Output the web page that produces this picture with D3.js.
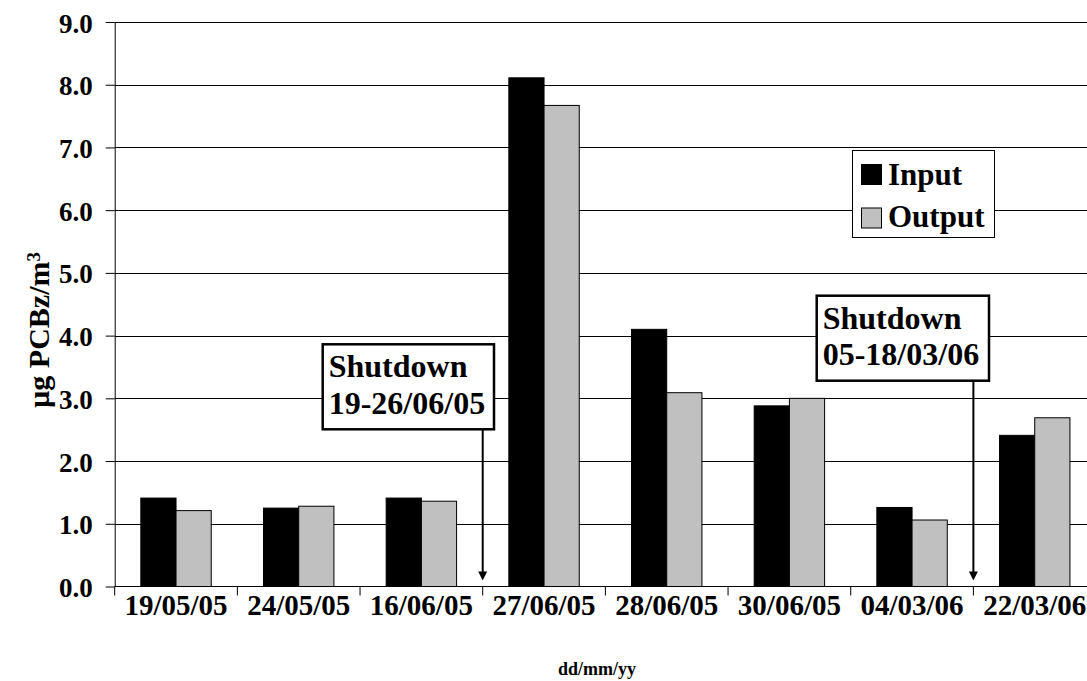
<!DOCTYPE html>
<html>
<head>
<meta charset="utf-8">
<script src="https://cdn.jsdelivr.net/npm/d3@7"></script>
<style>
  body { margin: 0; background: #fff; }
  svg text { font-family: "Liberation Serif", "Times New Roman", serif; font-weight: bold; fill: #000; }
</style>
</head>
<body>
<svg id="chart" width="1087" height="681"></svg>
<script>
// values
const dates = ["19/05/05", "24/05/05", "16/06/05", "27/06/05", "28/06/05", "30/06/05", "04/03/06", "22/03/06"];
const inputVals = [1.41, 1.25, 1.41, 8.11, 4.10, 2.88, 1.26, 2.41];
const outputVals = [1.21, 1.28, 1.36, 7.67, 3.09, 3.00, 1.06, 2.69];
const seriesNames = ["Input", "Output"];
const seriesColors = ["#000000", "#c0c0c0"];
const yTicks = [0, 1, 2, 3, 4, 5, 6, 7, 8, 9];
// shutdown arrows sit at the boundary after this category
const shutdownAfter = ["16/06/05", "04/03/06"];
const shutdownText = [["Shutdown", "19-26/06/05"], ["Shutdown", "05-18/03/06"]];

const svg = d3.select("#chart");

const left = 114.7, step = 122.67;
const x = d3.scaleBand().domain(dates).range([left, left + step * dates.length]).padding(0);
const xs = d3.scaleBand().domain(seriesNames).range([0, x.bandwidth()]).paddingInner(0).paddingOuter(0.742);
const y = d3.scaleLinear().domain([0, 9]).range([586.5, 22]);

const rows = dates.map((d, i) => ({ date: d, vals: [inputVals[i], outputVals[i]] }));

// gridlines
svg.append("g")
  .selectAll("line")
  .data(yTicks.slice(1))
  .enter()
  .append("line")
  .attr("x1", left)
  .attr("x2", 1087)
  .attr("y1", d => Math.round(y(d)) + 0.5)
  .attr("y2", d => Math.round(y(d)) + 0.5)
  .attr("stroke", "#000")
  .attr("stroke-width", 1);

// bars
svg.append("g")
  .selectAll("g")
  .data(rows)
  .enter()
  .append("g")
  .attr("transform", d => `translate(${x(d.date)},0)`)
  .selectAll("rect")
  .data(d => d.vals.map((v, j) => ({ name: seriesNames[j], v: v, j: j })))
  .enter()
  .append("rect")
  .attr("x", d => xs(d.name))
  .attr("width", xs.bandwidth())
  .attr("y", d => y(d.v))
  .attr("height", d => y(0) - y(d.v))
  .attr("fill", d => seriesColors[d.j])
  .attr("stroke", "#000")
  .attr("stroke-width", 1);

// y axis
const yAxis = svg.append("g")
  .attr("transform", `translate(${left},0)`)
  .call(d3.axisLeft(y).tickValues(yTicks).tickFormat(d3.format(".1f")).tickSize(9).tickSizeOuter(0).tickPadding(13));
yAxis.selectAll("text").style("font-size", "27px").attr("dy", "0.37em");
yAxis.selectAll("line, path").attr("stroke", "#000");

// x axis line + boundary ticks
svg.append("line")
  .attr("x1", left).attr("x2", 1087)
  .attr("y1", y(0)).attr("y2", y(0))
  .attr("stroke", "#000");
svg.append("g")
  .selectAll("line")
  .data(dates)
  .enter()
  .append("line")
  .attr("x1", d => x(d)).attr("x2", d => x(d))
  .attr("y1", y(0)).attr("y2", y(0) + 9)
  .attr("stroke", "#000");

const xAxis = svg.append("g")
  .attr("transform", `translate(0,${y(0)})`)
  .call(d3.axisBottom(x).tickSize(0).tickPadding(0));
xAxis.select(".domain").remove();
xAxis.selectAll("text").style("font-size", "29px").attr("y", 28).attr("dy", 0);

// axis titles
svg.append("text")
  .attr("x", 597).attr("y", 675)
  .attr("text-anchor", "middle")
  .style("font-size", "18px")
  .text("dd/mm/yy");

const yTitle = svg.append("text")
  .attr("transform", "translate(49,330) rotate(-90)")
  .attr("text-anchor", "middle")
  .style("font-size", "30px");
yTitle.append("tspan").text("µg PCBz/m");
yTitle.append("tspan").attr("dy", "-0.45em").style("font-size", "19px").text("3");

// legend
const lg = svg.append("g");
lg.append("rect")
  .attr("x", 852.5).attr("y", 150.5).attr("width", 142).attr("height", 87)
  .attr("fill", "#fff").attr("stroke", "#000");
seriesNames.forEach((s, i) => {
  lg.append("rect")
    .attr("x", 861.5).attr("y", 164.5 + i * 43.5).attr("width", 20).attr("height", 20)
    .attr("fill", seriesColors[i]).attr("stroke", "#000");
  lg.append("text")
    .attr("x", 888).attr("y", 185 + i * 42)
    .style("font-size", "31px")
    .text(s);
});

// shutdown annotations
const boxes = [
  { x: 322.7, y: 344.3, w: 171.3, h: 85 },
  { x: 816.7, y: 295.7, w: 172.3, h: 85 }
];
shutdownAfter.forEach((d, i) => {
  const ax = x(d) + x.bandwidth();
  const b = boxes[i];
  const g = svg.append("g");
  g.append("line")
    .attr("x1", ax).attr("x2", ax)
    .attr("y1", b.y + b.h).attr("y2", y(0) - 12)
    .attr("stroke", "#000").attr("stroke-width", 2);
  g.append("path")
    .attr("d", `M${ax - 4.5},${y(0) - 15} L${ax + 4.5},${y(0) - 15} L${ax},${y(0) - 6} Z`)
    .attr("fill", "#000");
  g.append("rect")
    .attr("x", b.x).attr("y", b.y).attr("width", b.w).attr("height", b.h)
    .attr("fill", "#fff").attr("stroke", "#000").attr("stroke-width", 2.5);
  shutdownText[i].forEach((t, k) => {
    g.append("text")
      .attr("x", b.x + 6).attr("y", b.y + 33 + k * 36.7)
      .style("font-size", "32px")
      .text(t);
  });
});
</script>
</body>
</html>
